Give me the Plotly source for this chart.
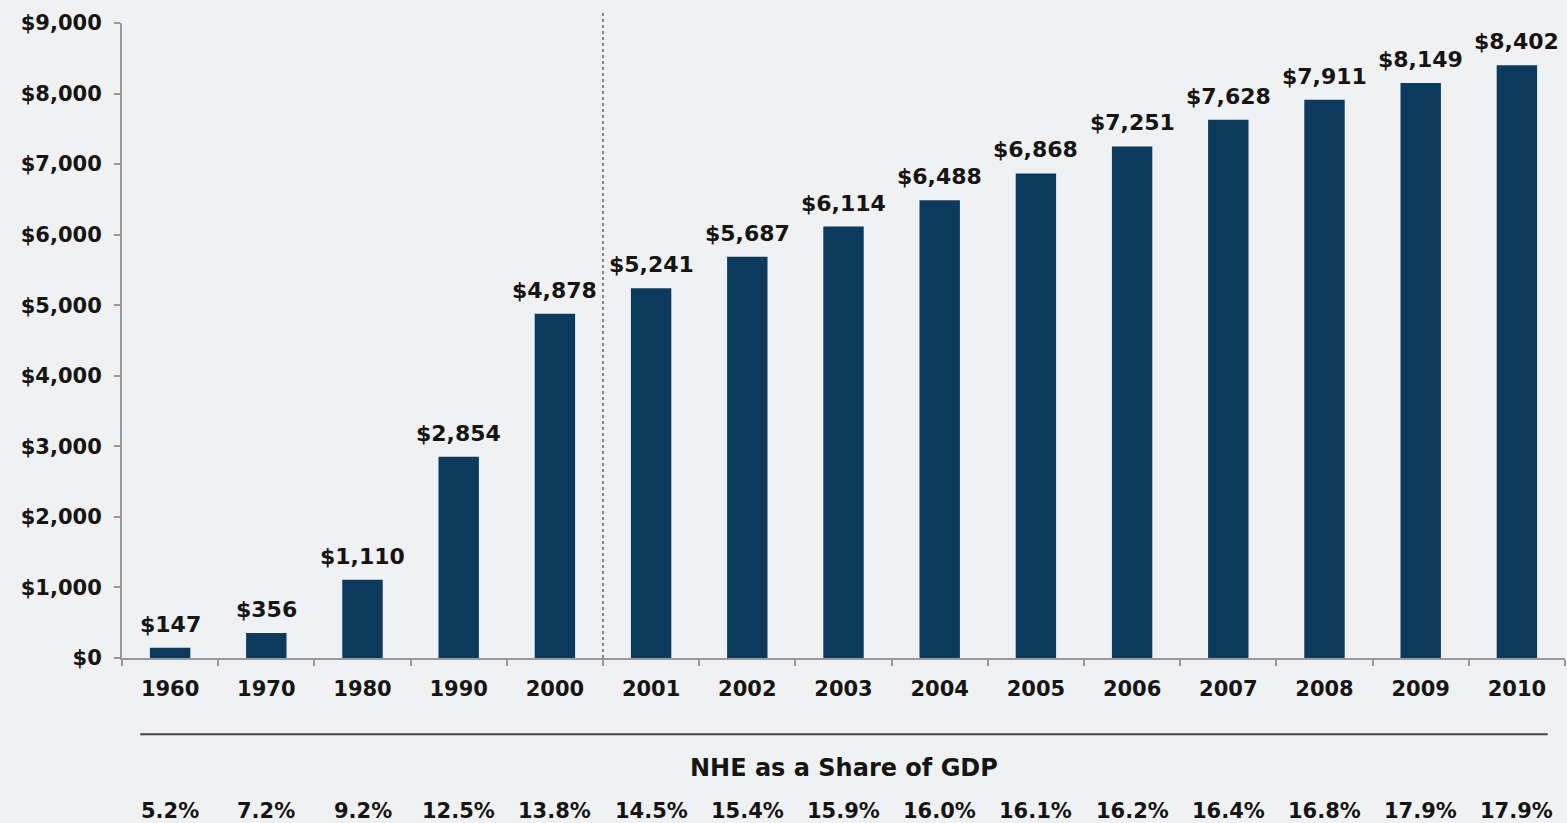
import plotly.graph_objects as go

years = ["1960", "1970", "1980", "1990", "2000", "2001", "2002", "2003",
         "2004", "2005", "2006", "2007", "2008", "2009", "2010"]
spending = [147, 356, 1110, 2854, 4878, 5241, 5687, 6114, 6488, 6868,
            7251, 7628, 7911, 8149, 8402]
gdp_share = ["5.2%", "7.2%", "9.2%", "12.5%", "13.8%", "14.5%", "15.4%", "15.9%",
             "16.0%", "16.1%", "16.2%", "16.4%", "16.8%", "17.9%", "17.9%"]
y_ticks = [0, 1000, 2000, 3000, 4000, 5000, 6000, 7000, 8000, 9000]
y_tick_text = ["$0", "$1,000", "$2,000", "$3,000", "$4,000", "$5,000",
               "$6,000", "$7,000", "$8,000", "$9,000"]
share_title = "NHE as a Share of GDP"

FONT = "DejaVu Sans"
BG = "#f0f1f3"
BAR = "#0c3a5c"
AX = "#9a9a9a"
TXT = "#151515"

fig = go.Figure()
fig.add_trace(go.Bar(
    x=years, y=spending, width=0.42,
    marker=dict(color=BAR, line=dict(width=0)),
    hoverinfo="skip",
))

# value labels above bars (category index positions)
for i, v in enumerate(spending):
    fig.add_annotation(x=i, xref="x", y=v, yref="y", text=f"<b>${v:,}</b>",
                       showarrow=False, yanchor="bottom", yshift=9,
                       font=dict(family=FONT, size=22, color=TXT))

n = len(years)
# divider between decades and annual data
fig.add_shape(type="line", xref="x", yref="paper", x0=4.5, x1=4.5, y0=0, y1=1.02,
              line=dict(color="#666666", width=1.5, dash="dot"))

# horizontal rule above the share row
fig.add_shape(type="line", xref="x", yref="paper", x0=-0.31, x1=n - 1 + 0.32,
              y0=-0.12, y1=-0.12, line=dict(color="#444444", width=2))

fig.add_annotation(x=(n - 1) / 2, xref="x", y=-0.173, yref="paper",
                   text=f"<b>{share_title}</b>",
                   showarrow=False, yanchor="middle",
                   font=dict(family=FONT, size=24, color=TXT))

for i, s in enumerate(gdp_share):
    fig.add_annotation(x=i, xref="x", y=-0.219, yref="paper", text=f"<b>{s}</b>",
                       showarrow=False, yanchor="top",
                       font=dict(family=FONT, size=21, color=TXT))

fig.update_layout(
    width=1567, height=823,
    margin=dict(l=122, r=2, t=23, b=165),
    paper_bgcolor=BG, plot_bgcolor=BG,
    showlegend=False,
)
fig.update_xaxes(
    type="category", range=[-0.5, n - 0.5], autorange=False,
    showgrid=False, showline=True, linecolor=AX, linewidth=2,
    ticks="outside", tickson="boundaries", ticklen=6, tickcolor=AX, tickwidth=1.5,
    tickfont=dict(family=FONT, size=21, color=TXT),
    tickmode="array", tickvals=years, ticktext=[f"<b>{y}</b>" for y in years],
    ticklabelstandoff=11,
    fixedrange=True,
)
fig.update_yaxes(
    range=[0, 9000], autorange=False, showgrid=False, zeroline=False,
    showline=True, linecolor=AX, linewidth=2,
    ticks="outside", ticklen=6, tickcolor=AX, tickwidth=1.5,
    tickvals=y_ticks, ticktext=[f"<b>{t}</b>" for t in y_tick_text],
    tickfont=dict(family=FONT, size=21, color=TXT),
    ticklabelstandoff=8,
    fixedrange=True,
)

fig.write_html("out.html", config={"displayModeBar": False},
               post_script="document.body.style.margin='0';document.body.style.overflow='hidden';")
